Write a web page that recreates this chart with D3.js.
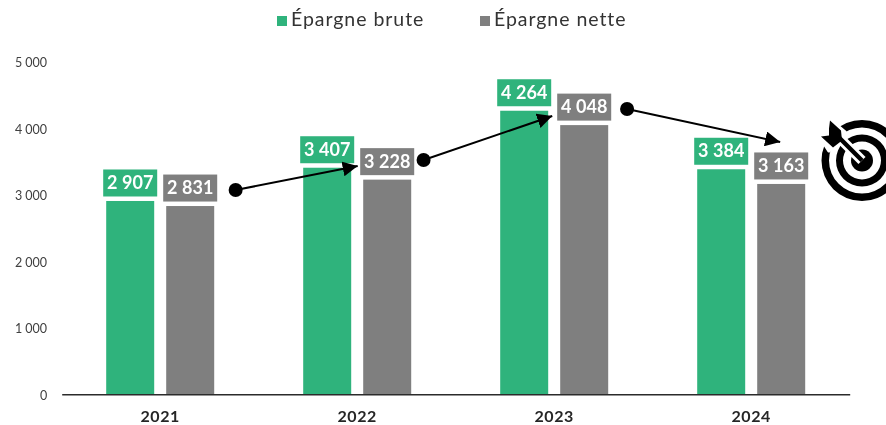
<!DOCTYPE html>
<html><head><meta charset="utf-8">
<script src="https://cdn.jsdelivr.net/npm/d3@7"></script>
<style>html,body{margin:0;padding:0;background:#fff}svg{display:block;filter:blur(0.35px)}text{font-family:"Lato","Open Sans",sans-serif}</style>
</head><body><div id="c"></div>
<script>
const years=["2021","2022","2023","2024"];
const seriesNames=["Épargne brute","Épargne nette"];
const brute=[2907,3407,4264,3384];
const nette=[2831,3228,4048,3163];
const yTicks=[0,1000,2000,3000,4000,5000];
const trendFromIdx=[0.383,1.337,2.37];
const trendFromVal=[3072,3523,4290];
const trendToIdx=[1.0025,1.99,3.147];
const trendToVal=[3433,4185,3794];
const colors=["#2fb37c","#7f7f7f"];
const W=886,H=425;
const fr=n=>d3.format(",")(n).replace(/,/g,"\u202f");
const svg=d3.select("#c").append("svg").attr("width",W).attr("height",H);
const y=d3.scaleLinear().domain([0,5000]).range([394.3,61.8]);
const x=d3.scaleBand().domain(years).range([61.7,849.7]);
const x1=d3.scaleBand().domain(seriesNames).range([-54,54]).paddingInner(0.2).paddingOuter(0);
const xi=d3.scaleLinear().domain([0,3]).range([x(years[0])+x.bandwidth()/2,x(years[3])+x.bandwidth()/2]);

// y axis labels
const ya=d3.axisLeft(y).tickValues(yTicks).tickFormat(fr).tickSize(0).tickPadding(0);
const gy=svg.append("g").attr("transform","translate(47,1)").call(ya);
gy.select(".domain").remove();
gy.selectAll("text").attr("font-size",12.5).attr("fill","#404040").attr("letter-spacing","-0.3").style("font-family","Lato");

// bars
[brute,nette].forEach((vals,s)=>{
  const g=svg.append("g");
  const bx=i=>x(years[i])+x.bandwidth()/2+x1(seriesNames[s]);
  const bw=x1.bandwidth();
  g.selectAll("rect.bar").data(vals).join("rect").attr("class","bar")
    .attr("x",(d,i)=>bx(i)).attr("width",bw).attr("y",d=>y(d)).attr("height",d=>y(0)-y(d)).attr("fill",colors[s]);
  g.selectAll("rect.lab").data(vals).join("rect").attr("class","lab")
    .attr("x",(d,i)=>bx(i)-3).attr("width",bw+6).attr("y",d=>y(d)-31.5).attr("height",27).attr("fill",colors[s]);
  g.selectAll("text").data(vals).join("text")
    .attr("x",(d,i)=>bx(i)+bw/2).attr("y",d=>y(d)-11.8).attr("text-anchor","middle")
    .attr("font-size",18).attr("font-weight",700).attr("letter-spacing","-0.4").attr("fill","#fff").text(fr);
});

// x axis
const xa=d3.axisBottom(x).tickSize(0).tickPadding(16);
const gx=svg.append("g").attr("transform","translate(0,394.3)").call(xa);
gx.select(".domain").attr("stroke","#2b2b2b").attr("stroke-width",1.4);
gx.selectAll("text").attr("font-size",16).attr("font-weight",700).attr("fill","#262626").attr("letter-spacing","0.6").style("font-family","Lato");

// legend
const legX=[277,480];
seriesNames.forEach((n,i)=>{
  svg.append("rect").attr("x",legX[i]).attr("y",16).attr("width",10).attr("height",10).attr("fill",colors[i]);
  svg.append("text").attr("x",legX[i]+14).attr("y",26).attr("font-size",19.5).attr("fill","#333").attr("letter-spacing","0.95").text(n);
});

// trend arrows
const defs=svg.append("defs");
defs.append("marker").attr("id","ah").attr("viewBox","0 0 10 10").attr("refX",10).attr("refY",5)
  .attr("markerUnits","userSpaceOnUse").attr("markerWidth",15).attr("markerHeight",15).attr("orient","auto")
  .append("path").attr("d","M0,0L10,5L0,10Z").attr("fill","#000");
trendFromIdx.forEach((fx,i)=>{
  const x0=xi(fx),y0=y(trendFromVal[i]),x1p=xi(trendToIdx[i]),y1p=y(trendToVal[i]);
  svg.append("line").attr("x1",x0).attr("y1",y0).attr("x2",x1p).attr("y2",y1p)
    .attr("stroke","#000").attr("stroke-width",2).attr("marker-end","url(#ah)");
  svg.append("circle").attr("cx",x0).attr("cy",y0).attr("r",7).attr("fill","#000");
});

// target icon
const t=svg.append("g").attr("transform","translate(862,160.5)");
const ring=(ro,ri)=>t.append("path").attr("fill","#000").attr("d",d3.arc()({innerRadius:ri,outerRadius:ro,startAngle:0,endAngle:2*Math.PI}));
ring(40.5,33);ring(26,19);
t.append("circle").attr("r",11).attr("fill","#000");
t.append("line").attr("x1",0).attr("y1",0).attr("x2",-27).attr("y2",-27).attr("stroke","#fff").attr("stroke-width",10);
t.append("path").attr("fill","#fff").attr("stroke","#fff").attr("stroke-width",4).attr("stroke-linejoin","round")
  .attr("d","M-25,-18L-33,-10L-42,-24L-30,-39L-17,-28Z");
t.append("line").attr("x1",0).attr("y1",0).attr("x2",-26).attr("y2",-26).attr("stroke","#000").attr("stroke-width",4.5);
t.append("path").attr("fill","#000").attr("d","M-20,-20L-29,-13L-41,-24L-33,-25L-33,-32L-32,-40L-21,-30Z");
</script></body></html>
